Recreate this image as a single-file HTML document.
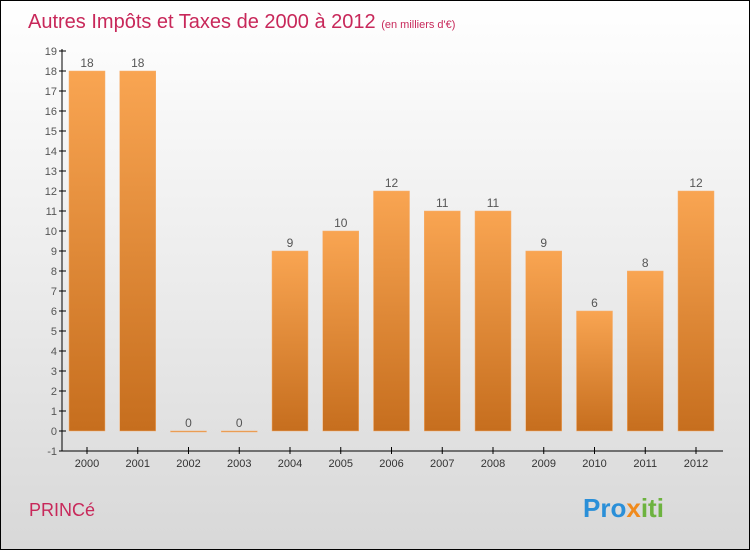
<!DOCTYPE html>
<html><head><meta charset="utf-8"><style>
body{margin:0}
#c{width:750px;height:550px;position:relative;box-sizing:border-box;border:1px solid #000;background:linear-gradient(#fff 0%,#ececec 50%,#d8d8d8 100%);font-family:"Liberation Sans",sans-serif;overflow:hidden}
</style></head><body>
<div id="c">
<svg width="750" height="550" style="position:absolute;left:0;top:0" id="s">
<defs><linearGradient id="g" x1="0" y1="0" x2="0" y2="1"><stop offset="0" stop-color="#f9a552"/><stop offset="1" stop-color="#c66e1e"/></linearGradient></defs>
<text x="27" y="27" font-size="20" fill="#c8285a">Autres Impôts et Taxes de 2000 à 2012 <tspan font-size="11">(en milliers d'€)</tspan></text>
<text x="28" y="515" font-size="18" fill="#c8285a">PRINCé</text>
<text x="582" y="516" font-size="26" font-weight="bold"><tspan fill="#2a8fd8">Pro</tspan><tspan fill="#f08a1c">x</tspan><tspan fill="#6db33f">iti</tspan></text>
</svg>
</div>
<script>
const years=["2000","2001","2002","2003","2004","2005","2006","2007","2008","2009","2010","2011","2012"];
const values=[18,18,0,0,9,10,12,11,11,9,6,8,12];
const yTicks=[-1,0,1,2,3,4,5,6,7,8,9,10,11,12,13,14,15,16,17,18,19];
const s=document.getElementById('s');const NS='http://www.w3.org/2000/svg';
const y=v=>430-v*20;const x=i=>86+i*50.75;
function mk(t,a){const e=document.createElementNS(NS,t);for(const k in a)e.setAttribute(k,a[k]);s.appendChild(e);return e;}
let ax=mk('line',{x1:61,y1:48,x2:61,y2:450,stroke:'#000'});

let bx=mk('line',{x1:61,y1:450,x2:722,y2:450,stroke:'#000'});

yTicks.forEach(v=>{
 let l=mk('line',{x1:58,y1:y(v),x2:65,y2:y(v),stroke:'#000'});
 
 let t=mk('text',{x:56,y:y(v)+4,'font-size':11,fill:'#555','text-anchor':'end'});t.textContent=v;
 
});
years.forEach((yr,i)=>{
 const v=values[i];const h=Math.max(Math.abs(v*20),1);
 let r=mk('rect',{x:x(i)-18,y:v>=0?y(v):430,width:36,height:h,fill:'url(#g)',stroke:'#f5b070','stroke-width':0.5});
 
 let tk=mk('line',{x1:x(i),y1:446,x2:x(i),y2:453,stroke:'#000'});
 
 let t=mk('text',{x:x(i),y:466,'font-size':11,fill:'#333','text-anchor':'middle'});t.textContent=yr;
 
 let vl=mk('text',{x:x(i),y:y(Math.max(v,0))-4,'font-size':12,fill:'#555','text-anchor':'middle'});vl.textContent=v;
 
});
</script>
</body></html>
